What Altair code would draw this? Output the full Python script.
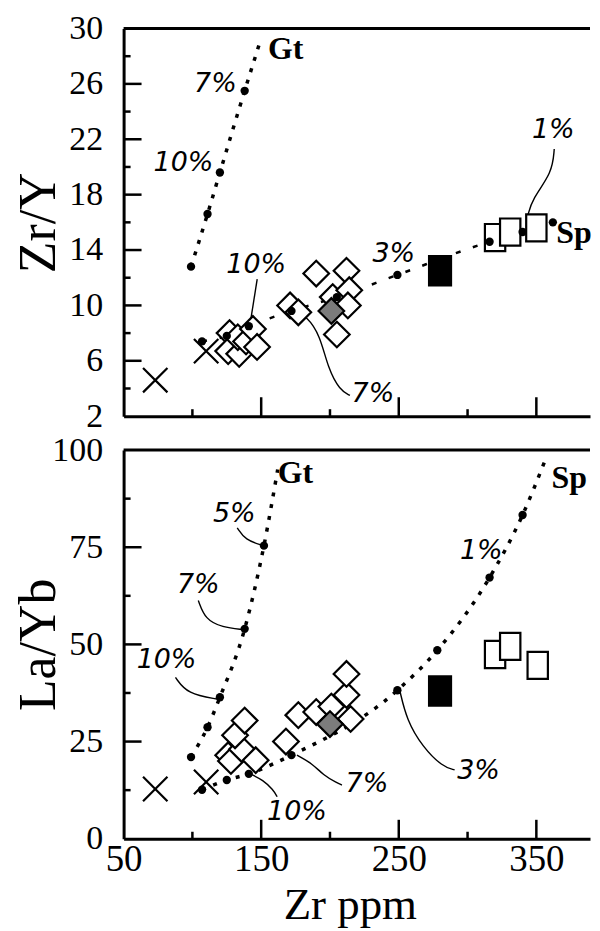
import altair as alt
import pandas as pd

# ---------------- values ----------------
# Top panel : Zr/Y vs Zr (ppm)
t_gt_zr = [99, 111, 120, 138, 150]
t_gt_v = [12.8, 16.6, 19.6, 25.5, 29.3]
t_gt_dot_zr = [99, 111, 120, 138]
t_gt_dot_v = [12.8, 16.6, 19.6, 25.5]
t_sp_zr = [107, 125, 141, 172, 205, 249, 316, 340, 362]
t_sp_v = [7.4, 7.8, 8.5, 9.6, 10.6, 12.2, 14.6, 15.3, 16.0]
t_cross_zr = [73, 110]
t_cross_v = [4.6, 6.7]
t_dia_zr = [127, 126, 134, 133, 139, 144, 147, 171, 177, 190, 212, 202, 214, 213, 205]
t_dia_v = [8.0, 6.7, 6.5, 7.7, 7.4, 8.3, 7.0, 10.0, 9.5, 12.3, 12.5, 10.6, 11.1, 10.0, 7.9]
t_gray_zr = [201]
t_gray_v = [9.6]
t_black_zr = [280]
t_black_v = [12.5]
t_sq_zr = [320, 331, 350]
t_sq_v = [14.9, 15.3, 15.6]
t_pct_text = ["7%", "10%", "10%", "3%", "1%", "7%"]
t_pct_zr = [116.7, 93.5, 146.4, 246.4, 362.3, 231.2]
t_pct_v = [26.0, 20.3, 12.9, 13.7, 22.7, 3.6]
t_min_text = ["Gt", "Sp"]
t_min_zr = [155, 364.5]
t_min_v = [28.5, 15.2]
t_leaders = [
    [(147.1, 11.9), (142.0, 8.7)],
    [(363.0, 21.3), (361.6, 19.6), (347.0, 17.7), (343.5, 16.4)],
    [(174.6, 9.55), (183.3, 9.2), (192.8, 7.83), (198.6, 5.45), (207.2, 3.87), (214.5, 3.5)],
]
t_y_major = [6, 10, 14, 18, 22, 26]
t_y_minor = [4, 8, 12, 16, 20, 24, 28]
t_y_labels = [2, 6, 10, 14, 18, 22, 26, 30]

# Bottom panel : La/Yb vs Zr (ppm)
b_gt_zr = [99, 111, 120, 138, 152, 162]
b_gt_v = [21.0, 28.7, 36.4, 54.0, 75.4, 95.0]
b_gt_dot_zr = [99, 111, 120, 138, 152]
b_gt_dot_v = [21.0, 28.7, 36.4, 54.0, 75.4]
b_sp_zr = [107, 125, 141, 172, 249, 278, 316, 340, 356]
b_sp_v = [12.6, 15.1, 16.7, 21.5, 38.2, 48.5, 67.2, 83.3, 97.0]
b_sp_dot_zr = [107, 125, 141, 172, 249, 278, 316, 340]
b_sp_dot_v = [12.6, 15.1, 16.7, 21.5, 38.2, 48.5, 67.2, 83.3]
b_cross_zr = [73, 110]
b_cross_v = [12.8, 14.6]
b_dia_zr = [126, 128, 136, 131, 146, 138, 168, 177, 190, 201, 215, 212, 212]
b_dia_v = [21.5, 20.0, 23.0, 26.6, 20.2, 30.4, 25.0, 31.8, 32.6, 34.0, 30.8, 37.0, 42.4]
b_gray_zr = [200]
b_gray_v = [29.5]
b_black_zr = [280]
b_black_v = [38.0]
b_sq_zr = [320, 331, 351]
b_sq_v = [47.4, 49.5, 44.6]
b_pct_text = ["5%", "7%", "10%", "10%", "7%", "3%", "1%"]
b_pct_zr = [130.4, 104.3, 81.2, 176.0, 226.8, 308.0, 310.0]
b_pct_v = [83.6, 65.4, 45.9, 6.9, 14.1, 17.4, 74.1]
b_min_text = ["Gt", "Sp"]
b_min_zr = [162.0, 361.0]
b_min_v = [94.1, 92.8]
b_leaders = [
    [(132.6, 80.0), (138.4, 76.9), (151.4, 75.4)],
    [(104.3, 61.3), (109.4, 56.4), (121.7, 54.4), (137.0, 53.8)],
    [(87.7, 41.5), (96.4, 37.2), (118.8, 35.9)],
    [(142.0, 16.7), (151.4, 15.1), (158.7, 12.6), (161.6, 10.8)],
    [(176.0, 21.5), (187.7, 19.2), (195.0, 16.4), (205.0, 14.4), (208.7, 13.8)],
    [(250.7, 38.2), (255.8, 30.5), (267.4, 23.6), (281.9, 18.5), (290.6, 17.7)],
]
b_y_major = [25, 50, 75]
b_y_minor = [12.5, 37.5, 62.5, 87.5]
b_y_labels = [0, 25, 50, 75, 100]

x_major = [150, 250, 350]
x_minor = [100, 200, 300]
x_labels = [50, 150, 250, 350]
X_DOMAIN = [50, 389]

SERIF = "Liberation Serif"
SANS = "DejaVu Sans"
W = 468

SQUARE = "M-0.75,-1L0.75,-1L0.75,1L-0.75,1Z"
XMARK = "M-1,-1L1,1M-1,1L1,-1"


def df(zr, v):
    return pd.DataFrame({"zr": zr, "v": v})


def panel(h, ydom, ytitle, ylabels, ymajor, yminor, show_x, d):
    xs = alt.Scale(domain=X_DOMAIN, nice=False, zero=False)
    ys = alt.Scale(domain=ydom, nice=False, zero=False)

    yaxis = alt.Axis(
        values=ylabels, title=ytitle, ticks=False, grid=False,
        domain=True, domainWidth=3, domainColor="black",
        labelFont=SERIF, labelFontSize=34, labelColor="black",
        labelPadding=21, labelFlush=False, labelOverlap=False,
        titleFont=SERIF, titleFontSize=52, titleFontWeight="normal",
        titleColor="black", titleX=-85, titleY=h / 2,
        titleBaseline="middle", titleAlign="center",
    )
    if show_x:
        xaxis = alt.Axis(
            values=x_labels, title="Zr ppm", ticks=False, grid=False,
            domain=True, domainWidth=3, domainColor="black",
            labelFont=SERIF, labelFontSize=37, labelColor="black",
            labelPadding=3, labelFlush=False, labelOverlap=False,
            titleFont=SERIF, titleFontSize=45, titleFontWeight="normal",
            titleColor="black", titleX=227, titleY=80,
            titleBaseline="alphabetic", titleAlign="center",
        )
    else:
        xaxis = alt.Axis(
            values=x_labels, title=None, ticks=False, grid=False, labels=False,
            domain=True, domainWidth=3, domainColor="black",
        )

    def X(f):
        return alt.X(f, type="quantitative", scale=xs, axis=xaxis)

    def Y(f):
        return alt.Y(f, type="quantitative", scale=ys, axis=yaxis)

    def pts(chart_mark):
        return chart_mark.encode(x=X("zr"), y=Y("v"))

    layers = []
    # inward ticks
    layers.append(
        alt.Chart(pd.DataFrame({"t": ymajor})).mark_rule(color="black", strokeWidth=2.5).encode(
            y=Y("t"), x=alt.value(0), x2=alt.value(18)
        )
    )
    layers.append(
        alt.Chart(pd.DataFrame({"t": yminor})).mark_rule(color="black", strokeWidth=2.5).encode(
            y=Y("t"), x=alt.value(0), x2=alt.value(7)
        )
    )
    layers.append(
        alt.Chart(pd.DataFrame({"t": x_major})).mark_rule(color="black", strokeWidth=2.5).encode(
            x=X("t"), y=alt.value(h), y2=alt.value(h - 19)
        )
    )
    layers.append(
        alt.Chart(pd.DataFrame({"t": x_minor})).mark_rule(color="black", strokeWidth=2.5).encode(
            x=X("t"), y=alt.value(h), y2=alt.value(h - 7)
        )
    )
    # top frame line
    layers.append(
        alt.Chart(pd.DataFrame({"a": [0]})).mark_rule(color="black", strokeWidth=3).encode(
            y=alt.value(0), x=alt.value(0), x2=alt.value(W)
        )
    )
    # melting curves
    layers.append(pts(alt.Chart(d["gt"]).mark_line(
        color="black", strokeWidth=3.5, strokeDash=[4, 8], interpolate="monotone")))
    layers.append(pts(alt.Chart(d["sp"]).mark_line(
        color="black", strokeWidth=d["sp_w"], strokeDash=d["sp_dash"], interpolate="monotone")))
    # leader lines
    rows = []
    for i, pl in enumerate(d["leaders"]):
        for j, (a, b) in enumerate(pl):
            rows.append({"id": i, "o": j, "zr": a, "v": b})
    layers.append(
        alt.Chart(pd.DataFrame(rows)).mark_line(color="black", strokeWidth=1.4, interpolate="basis").encode(
            x=X("zr"), y=Y("v"), detail="id:N", order="o:Q",
        )
    )
    # samples
    layers.append(pts(alt.Chart(d["dia"]).mark_point(
        shape="diamond", size=660, filled=True, fill="white", stroke="black",
        strokeWidth=2.2, opacity=1)))
    layers.append(pts(alt.Chart(d["gray"]).mark_point(
        shape="diamond", size=660, filled=True, fill="#7c7c7c", stroke="black",
        strokeWidth=2.2, opacity=1)))
    layers.append(pts(alt.Chart(d["sq"]).mark_point(
        shape=SQUARE, size=740, filled=True, fill="white", stroke="black",
        strokeWidth=2.2, opacity=1)))
    layers.append(pts(alt.Chart(d["black"]).mark_point(
        shape=SQUARE, size=880, filled=True, fill="black", stroke="black",
        strokeWidth=2, opacity=1)))
    layers.append(pts(alt.Chart(d["cross"]).mark_point(
        shape=XMARK, size=600, filled=False, stroke="black", strokeWidth=2.2, opacity=1)))
    # melt increments
    layers.append(pts(alt.Chart(d["dots"]).mark_point(
        shape="circle", size=70, filled=True, color="black", opacity=1)))
    # labels
    layers.append(
        alt.Chart(d["pct"]).mark_text(
            font=SANS, fontSize=27, fontStyle="italic", color="black",
            align="center", baseline="middle").encode(x=X("zr"), y=Y("v"), text="t:N")
    )
    layers.append(
        alt.Chart(d["min"]).mark_text(
            font=SERIF, fontSize=32, fontWeight="bold", color="black",
            align="left", baseline="middle").encode(x=X("zr"), y=Y("v"), text="t:N")
    )
    return alt.layer(*layers).properties(width=W, height=h)


top_d = {
    "gt": df(t_gt_zr, t_gt_v),
    "sp": df(t_sp_zr, t_sp_v),
    "sp_w": 2.5, "sp_dash": [5, 13],
    "leaders": t_leaders,
    "dia": df(t_dia_zr, t_dia_v),
    "gray": df(t_gray_zr, t_gray_v),
    "sq": df(t_sq_zr, t_sq_v),
    "black": df(t_black_zr, t_black_v),
    "cross": df(t_cross_zr, t_cross_v),
    "dots": df(t_gt_dot_zr + t_sp_zr, t_gt_dot_v + t_sp_v),
    "pct": pd.DataFrame({"t": t_pct_text, "zr": t_pct_zr, "v": t_pct_v}),
    "min": pd.DataFrame({"t": t_min_text, "zr": t_min_zr, "v": t_min_v}),
}
bot_d = {
    "gt": df(b_gt_zr, b_gt_v),
    "sp": df(b_sp_zr, b_sp_v),
    "sp_w": 3.5, "sp_dash": [4, 8],
    "leaders": b_leaders,
    "dia": df(b_dia_zr, b_dia_v),
    "gray": df(b_gray_zr, b_gray_v),
    "sq": df(b_sq_zr, b_sq_v),
    "black": df(b_black_zr, b_black_v),
    "cross": df(b_cross_zr, b_cross_v),
    "dots": df(b_gt_dot_zr + b_sp_dot_zr, b_gt_dot_v + b_sp_dot_v),
    "pct": pd.DataFrame({"t": b_pct_text, "zr": b_pct_zr, "v": b_pct_v}),
    "min": pd.DataFrame({"t": b_min_text, "zr": b_min_zr, "v": b_min_v}),
}

top = panel(389, [2, 30], "Zr/Y", t_y_labels, t_y_major, t_y_minor, False, top_d)
bot = panel(390, [0, 100], "La/Yb", b_y_labels, b_y_major, b_y_minor, True, bot_d)

chart = alt.vconcat(top, bot, spacing=34, bounds="flush").properties(
    padding={"left": 5, "top": 2, "right": 0, "bottom": 0},
    background="white",
).configure_view(stroke=None)

chart.save("out.html", embed_options={"renderer": "svg", "actions": False})
